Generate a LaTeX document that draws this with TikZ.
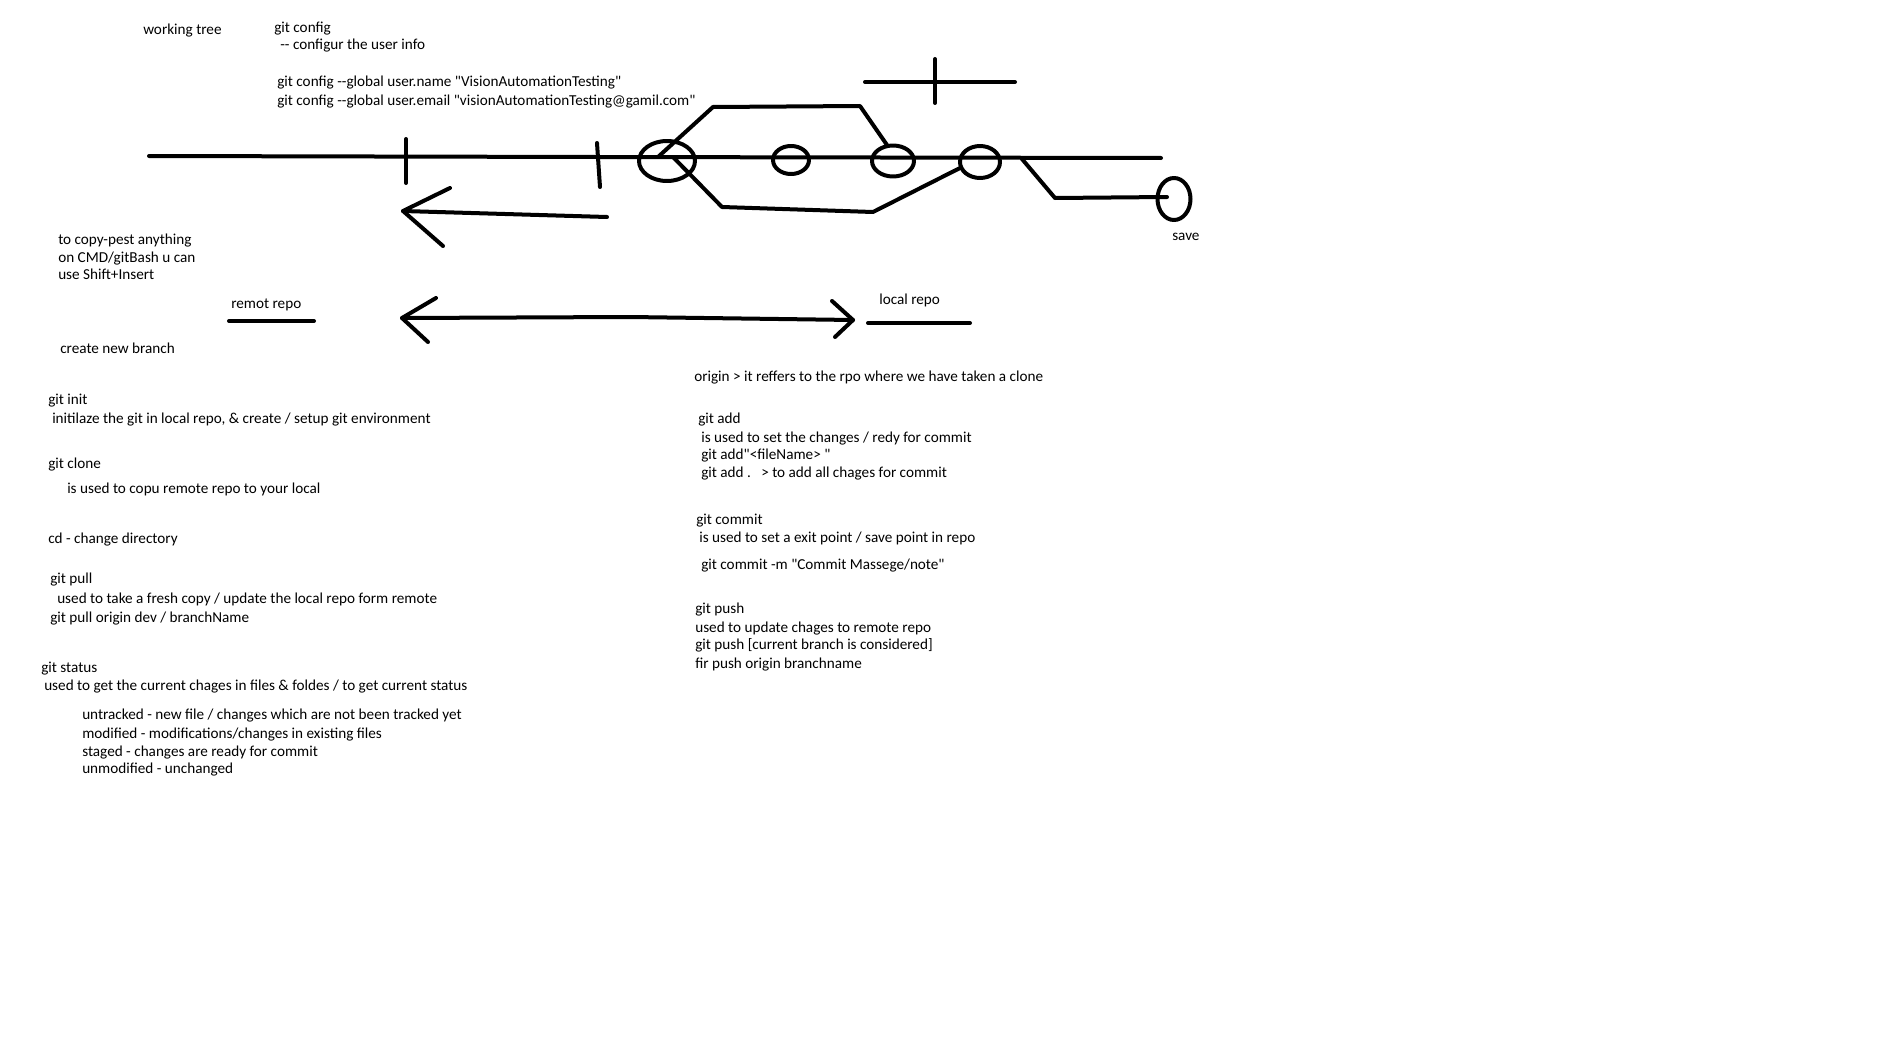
\documentclass[tikz,border=0pt]{standalone}
\usepackage{fontspec}
\setmainfont{Carlito}[Ligatures=TeXOff]
\begin{document}
\begin{tikzpicture}[x=0.75pt,y=-0.75pt,
    brush/.style={line width=3pt,line cap=round,line join=round},
    txt/.style={anchor=base west,inner sep=0pt,yshift=-1.5pt,font=\fontsize{11.4}{13}\selectfont},
]
\useasboundingbox (0,0) rectangle (1896,1056);

%%%%%%%%%%%%%%%% top notes
\node[txt] (wtree) at (143,33) {working tree};
\node[txt] (cfg) at (274,31) {git config};
\node[txt] (cfgi) at (280,48) {-- configur the user info};
\node[txt] (cfgname) at (277,85) {git config --global user.name "VisionAutomationTesting"};
\node[txt] (cfgmail) at (277,103) {git config --global user.email "visionAutomationTesting@gamil.com"};

\node[txt] (cpa) at (58,242) {to copy-pest anything};
\node[txt] (cpb) at (58,260) {on CMD/gitBash u can};
\node[txt] (cpc) at (58,277) {use Shift+Insert};

%%%%%%%%%%%%%%%% branch sketch
  %% main line
  \draw[brush] (149,156) -- (600,157) -- (1161,158);
  %% splits
  \draw[brush] (406,139) -- (406,183);
  \draw[brush] (597,143) -- (600,187);
  %% going back
  \coordinate (back) at (403,211);
  \draw[brush] (607,217) -- (back);
  \draw[brush] (450,188) -- (back) -- (443,246);

  %% commits
  \draw[brush] (667,161) ellipse [x radius=28, y radius=20];
  \draw[brush] (791,160) ellipse [x radius=18, y radius=14];
  \draw[brush] (893,161) ellipse [x radius=21, y radius=15.5];
  \draw[brush] (980,162) ellipse [x radius=20, y radius=16];

  %% side branches
  \draw[brush] (658,157) -- (713,107) -- (860,106) -- (887,145);
  \draw[brush] (673,157) -- (722,207) -- (873,212) -- (960,168);
  \draw[brush] (1022,159) -- (1055,198) -- (1167,197);
  \draw[brush] (1174,199) ellipse [x radius=16.5, y radius=21];
  \node[txt] (save) at (1172,238) {save};

  %% cross
  \draw[brush] (865,82) -- (1015,82);
  \draw[brush] (935,59) -- (935,103);

%%%%%%%%%%%%%%%% remote <-> local
\node[txt] (remote) at (231,306) {remot repo};
\draw[brush] (229,321) -- (314,321);
\node[txt] (local) at (879,302) {local repo};
\draw[brush] (868,323) -- (970,323);

\coordinate (rtip) at (402,318);
\coordinate (ltip) at (853,320);
\draw[brush] (rtip) -- (630,317) -- (ltip);
\draw[brush] (436,298) -- (rtip) -- (428,342);
\draw[brush] (832,301) -- (ltip) -- (835,337);

%%%%%%%%%%%%%%%% left column
\node[txt] (branch) at (60,351) {create new branch};

\node[txt] (init) at (48,402) {git init};
\node[txt] (initd) at (52,421) {initilaze the git in local repo, \& create / setup git environment};

\node[txt] (clone) at (48,466) {git clone};
\node[txt] (cloned) at (67,491) {is used to copu remote repo to your local};

\node[txt] (cd) at (48,541) {cd - change directory};

\node[txt] (pull) at (50,581) {git pull};
\node[txt] (pulld) at (57,601) {used to take a fresh copy / update the local repo form remote};
\node[txt] (pulle) at (50,620) {git pull origin dev / branchName};

\node[txt] (status) at (41,670) {git status};
\node[txt] (statusd) at (44,688) {used to get the current chages in files \& foldes / to get current status};
\node[txt] (sta) at (82,717) {untracked - new file / changes which are not been tracked yet};
\node[txt] (stb) at (82,736) {modified - modifications/changes in existing files};
\node[txt] (stc) at (82,754) {staged - changes are ready for commit};
\node[txt] (std) at (82,771) {unmodified - unchanged};

%%%%%%%%%%%%%%%% right column
\node[txt] (origin) at (694,379) {origin > it reffers to the rpo where we have taken a clone};

\node[txt] (add) at (698,421) {git add};
\node[txt] (adda) at (701,440) {is used to set the changes / redy for commit};
\node[txt] (addb) at (701,457) {git add"<fileName> "};
\node[txt] (addc) at (701,475) {git add .\ \ \ > to add all chages for commit};

\node[txt] (commit) at (696,522) {git commit};
\node[txt] (commita) at (699,540) {is used to set a exit point / save point in repo};
\node[txt] (commitb) at (701,567) {git commit -m "Commit Massege/note"};

\node[txt] (push) at (695,611) {git push};
\node[txt] (pusha) at (695,630) {used to update chages to remote repo};
\node[txt] (pushb) at (695,647) {git push [current branch is considered]};
\node[txt] (pushc) at (695,666) {fir push origin branchname};

\end{tikzpicture}
\end{document}
